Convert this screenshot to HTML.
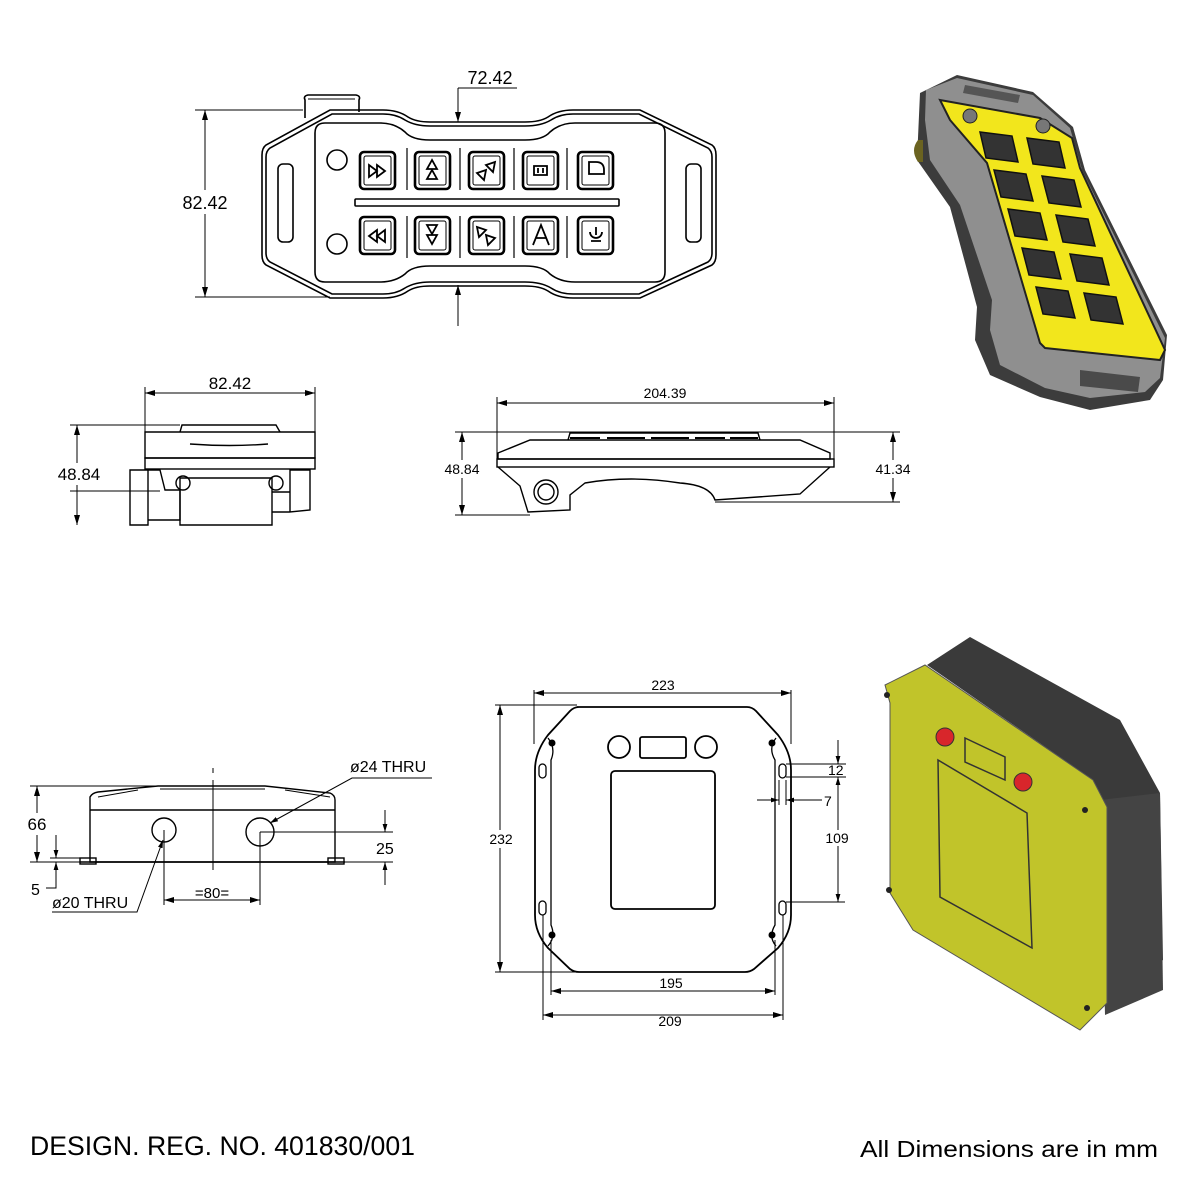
<!DOCTYPE html>
<html><head><meta charset="utf-8"><style>html,body{margin:0;padding:0;background:#fff}svg{display:block}</style></head>
<body>
<svg width="1190" height="1190" viewBox="0 0 1190 1190" xmlns="http://www.w3.org/2000/svg" font-family="Liberation Sans, sans-serif">
<defs>
<marker id="a" viewBox="0 0 10 10" refX="10" refY="5" markerWidth="10" markerHeight="10" orient="auto-start-reverse" markerUnits="userSpaceOnUse"><path d="M0,2 L10,5 L0,8 Z" fill="#000"/></marker>
<marker id="b" viewBox="0 0 10 10" refX="10" refY="5" markerWidth="8" markerHeight="8" orient="auto-start-reverse" markerUnits="userSpaceOnUse"><path d="M0,2 L10,5 L0,8 Z" fill="#000"/></marker>
</defs>
<rect width="1190" height="1190" fill="#fff"/>

<!-- ===== TOP VIEW REMOTE ===== -->
<g fill="none" stroke="#000" stroke-width="1.6">
<path d="M305,118 L305,100 Q303,96 308,95 L356,95 Q361,96 359,100 L359,112"/>
<path d="M308,99 L355,99" stroke-width="1"/>
<path d="M330,110 L383,110 Q398,110 408,117 Q416,122 430,122 L525,122 Q540,122 548,117 Q558,110 573,110 L640,110 L712,145 Q716,148 716,155 L716,255 Q716,262 712,265 L640,298 L573,298 Q558,298 548,291 Q540,286 525,286 L430,286 Q416,286 408,291 Q398,298 383,298 L330,298 L266,265 Q262,262 262,255 L262,155 Q262,148 266,145 Z"/>
<path d="M332,114 L383,114 Q396,114 405,120 Q415,126 430,126 L525,126 Q541,126 551,120 Q560,114 573,114 L639,114 L708,148 Q712,151 712,157 L712,253 Q712,259 708,262 L639,294 L573,294 Q560,294 551,288 Q541,282 525,282 L430,282 Q415,282 405,288 Q396,294 383,294 L332,294 L270,262 Q266,259 266,253 L266,157 Q266,151 270,148 Z"/>
<path d="M325,123 L380,123 Q395,123 405,132 Q412,140 430,140 L525,140 Q543,140 550,132 Q560,123 575,123 L655,123 Q665,123 665,133 L665,272 Q665,282 655,282 L575,282 Q560,282 550,274 Q543,266 525,266 L430,266 Q412,266 405,274 Q395,282 380,282 L325,282 Q315,282 315,272 L315,133 Q315,123 325,123 Z"/>
<circle cx="337" cy="160" r="10"/><circle cx="337" cy="244" r="10"/>
<rect x="278" y="164" width="15" height="78" rx="5"/><rect x="686" y="164" width="15" height="78" rx="5"/>
<rect x="355" y="199" width="264" height="7" rx="1"/>
<path d="M407,148 L407,190 M460,148 L460,190 M514,148 L514,190 M567,148 L567,190 M407,216 L407,258 M460,216 L460,258 M514,216 L514,258 M567,216 L567,258" stroke-width="1.2"/>
</g>
<g fill="none" stroke="#000">
<g stroke-width="2.6">
<rect x="360" y="152" width="35" height="37" rx="4"/><rect x="415" y="152" width="35" height="37" rx="4"/><rect x="469" y="152" width="35" height="37" rx="4"/><rect x="523" y="152" width="35" height="37" rx="4"/><rect x="578" y="152" width="35" height="37" rx="4"/>
<rect x="360" y="217" width="35" height="37" rx="4"/><rect x="415" y="217" width="35" height="37" rx="4"/><rect x="469" y="217" width="35" height="37" rx="4"/><rect x="523" y="217" width="35" height="37" rx="4"/><rect x="578" y="217" width="35" height="37" rx="4"/>
</g>
<g stroke-width="1">
<rect x="364" y="156" width="27" height="29" rx="2"/><rect x="419" y="156" width="27" height="29" rx="2"/><rect x="473" y="156" width="27" height="29" rx="2"/><rect x="527" y="156" width="27" height="29" rx="2"/><rect x="582" y="156" width="27" height="29" rx="2"/>
<rect x="364" y="221" width="27" height="29" rx="2"/><rect x="419" y="221" width="27" height="29" rx="2"/><rect x="473" y="221" width="27" height="29" rx="2"/><rect x="527" y="221" width="27" height="29" rx="2"/><rect x="582" y="221" width="27" height="29" rx="2"/>
</g>
<g stroke-width="1.8">
<path d="M369,165 L377,171 L369,177 Z M377,165 L385,171 L377,177 Z"/>
<path d="M432,160 L427,169 L437,169 Z M432,170 L427,179 L437,179 Z"/>
<path d="M495,162 L486,165 L493,172 Z M486,170 L477,173 L484,180 Z"/>
<path d="M534,166 h13 v9 h-13 Z M538,168 v5 M543,168 v5"/>
<path d="M589,162 h7 q8,0 8,8 v4 h-15 Z"/>
<path d="M385,230 L377,236 L385,242 Z M377,230 L369,236 L377,242 Z"/>
<path d="M432,244 L427,235 L437,235 Z M432,234 L427,225 L437,225 Z"/>
<path d="M477,227 L486,230 L479,237 Z M486,235 L495,238 L488,245 Z"/>
<path d="M533,245 L541,225 L549,245 M536,238 h10"/>
<path d="M590,232 a6,6 0 1 0 12,0 M596,227 v8 M591,241 h10"/>
</g>
</g>
<!-- dims top -->
<g stroke="#000" stroke-width="1" fill="none">
<path d="M195,110 L303,110 M195,297 L330,297"/>
<line x1="205" y1="110" x2="205" y2="297" marker-start="url(#a)" marker-end="url(#a)"/>
<path d="M458,88 L517,88"/>
<line x1="458" y1="88" x2="458" y2="122" marker-end="url(#a)"/>
<line x1="458" y1="326" x2="458" y2="285" marker-end="url(#a)"/>
</g>
<rect x="176" y="190" width="58" height="24" fill="#fff"/>
<text x="205" y="209" font-size="18" text-anchor="middle">82.42</text>
<text x="490" y="84" font-size="18" text-anchor="middle">72.42</text>

<!-- ===== 3D REMOTE ===== -->
<path d="M920,93 L957,75 L1033,92 L1073,127 L1085,170 L1167,335 L1163,380 L1150,400 L1090,410 L1040,397 L990,375 L975,340 L977,307 L950,207 L917,160 Z" fill="#3c3c3c"/>
<path d="M926,90 L957,78 L1033,95 L1070,128 L1082,170 L1165,338 L1160,378 L1145,392 L1090,398 L1045,388 L1000,365 L990,330 L992,300 L960,205 L930,160 L925,120 Z" fill="#8f8f8f"/>
<path d="M940,100 L1040,118 L1072,138 L1080,168 L1165,350 L1160,360 L1045,348 L1040,343 L987,163 L950,120 Z" fill="#f2e61c" stroke="#222" stroke-width="2"/>
<path d="M965,85 L1020,95 L1018,103 L963,93 Z" fill="#555"/>
<path d="M1080,370 L1140,377 L1138,392 L1080,386 Z" fill="#4a4a4a"/>
<circle cx="970" cy="116" r="7" fill="#777" stroke="#222"/><circle cx="1043" cy="126" r="7" fill="#777" stroke="#222"/>
<g fill="#333" stroke="#111" stroke-width="1.5">
<path d="M980,132 l32,4 l6,26 l-32,-4 Z"/><path d="M1027,138 l32,4 l6,26 l-32,-4 Z"/>
<path d="M994,170 l32,4 l7,27 l-32,-4 Z"/><path d="M1042,176 l32,4 l7,27 l-32,-4 Z"/>
<path d="M1008,209 l32,4 l7,27 l-32,-4 Z"/><path d="M1056,215 l32,4 l7,27 l-32,-4 Z"/>
<path d="M1022,248 l32,4 l7,27 l-32,-4 Z"/><path d="M1070,254 l32,4 l7,27 l-32,-4 Z"/>
<path d="M1036,287 l32,4 l7,27 l-32,-4 Z"/><path d="M1084,293 l32,4 l7,27 l-32,-4 Z"/>
</g>
<path d="M918,140 q-8,10 0,22 l5,0 l0,-22 Z" fill="#6b6320"/>

<!-- ===== LEFT SIDE VIEW ===== -->
<g fill="none" stroke="#000" stroke-width="1.4">
<path d="M180,432 L182,425 L276,425 L280,432"/>
<path d="M145,432 L315,432 L315,458 L145,458 Z"/>
<path d="M190,444 Q230,447 268,444"/>
<rect x="145" y="458" width="170" height="11"/>
<path d="M130,470 L148,470 L148,525 L130,525 Z"/>
<path d="M148,470 L160,470 L165,490 L180,490 L180,520 L148,520"/>
<path d="M180,478 L272,478 L272,525 L180,525 Z"/>
<circle cx="183" cy="483" r="7"/><circle cx="276" cy="483" r="7"/>
<path d="M290,470 L310,470 L310,510 L290,512 Z M272,492 L290,492 L290,512 L272,512"/>
</g>
<g stroke="#000" stroke-width="1" fill="none">
<path d="M145,432 L145,387 M315,432 L315,387 M70,425 L180,425 M70,491 L160,491"/>
<line x1="145" y1="393" x2="315" y2="393" marker-start="url(#a)" marker-end="url(#a)"/>
<line x1="77" y1="425" x2="77" y2="525" marker-start="url(#a)" marker-end="url(#a)"/>
</g>
<rect x="52" y="463" width="52" height="22" fill="#fff"/>
<text x="79" y="480" font-size="17" text-anchor="middle">48.84</text>
<text x="230" y="389" font-size="17" text-anchor="middle">82.42</text>

<!-- ===== CENTER SIDE VIEW ===== -->
<g fill="none" stroke="#000" stroke-width="1.4">
<path d="M568,440 L570,433 L758,433 L760,440"/>
<path d="M570,438 h30 M607,438 h38 M651,438 h38 M695,438 h30 M730,438 h28" stroke-width="2"/>
<path d="M498,453 L530,440 L800,440 L830,453 L830,459 L498,459 Z"/>
<rect x="497" y="459" width="337" height="8"/>
<path d="M498,467 L520,486 L528,512 L570,510 L570,495 L585,483 Q630,475 680,483 Q710,485 715,500 L800,494 L830,467"/>
<circle cx="546" cy="492" r="12"/><circle cx="546" cy="492" r="8"/>
</g>
<g stroke="#000" stroke-width="1" fill="none">
<path d="M497,459 L497,397 M834,459 L834,397 M455,432 L900,432 M455,515 L530,515 M715,502 L900,502"/>
<line x1="497" y1="403" x2="834" y2="403" marker-start="url(#a)" marker-end="url(#a)"/>
<line x1="462" y1="432" x2="462" y2="515" marker-start="url(#a)" marker-end="url(#a)"/>
<line x1="893" y1="432" x2="893" y2="502" marker-start="url(#a)" marker-end="url(#a)"/>
</g>
<rect x="440" y="460" width="46" height="18" fill="#fff"/><rect x="871" y="460" width="46" height="18" fill="#fff"/>
<text x="462" y="474" font-size="14" text-anchor="middle">48.84</text>
<text x="893" y="474" font-size="14" text-anchor="middle">41.34</text>
<text x="665" y="398" font-size="14" text-anchor="middle">204.39</text>

<!-- ===== 3D RECEIVER ===== -->
<path d="M927,665 L970,637 L1120,720 L1160,793 L1163,960 L1107,1003 L1093,780 Z" fill="#3a3a3a"/>
<path d="M1100,800 L1160,793 L1163,990 L1105,1015 Z" fill="#444"/>
<path d="M885,685 L925,665 L1093,780 L1107,807 L1107,1003 L1080,1030 L913,930 L890,893 L890,703 Z" fill="#c1c42a" stroke="#555" stroke-width="1"/>
<circle cx="945" cy="737" r="9" fill="#d8262b" stroke="#333"/><circle cx="1023" cy="782" r="9" fill="#d8262b" stroke="#333"/>
<path d="M965,738 L1005,757 L1005,780 L965,762 Z" fill="none" stroke="#333" stroke-width="1.5"/>
<path d="M938,760 L1027,813 L1032,948 L940,897 Z" fill="none" stroke="#333" stroke-width="1.5"/>
<g fill="#222"><circle cx="887" cy="695" r="3"/><circle cx="1085" cy="810" r="3"/><circle cx="889" cy="890" r="3"/><circle cx="1087" cy="1008" r="3"/></g>

<!-- ===== BOTTOM-LEFT RECEIVER SIDE ===== -->
<g fill="none" stroke="#000" stroke-width="1.4">
<path d="M90,862 L90,797 Q92,793 98,792 L158,786 L265,786 L330,793 Q335,795 335,800 L335,862 Z"/>
<path d="M98,797 L138,790 M285,790 L330,797 M160,789 L265,789" stroke-width="1"/>
<line x1="90" y1="810" x2="335" y2="810"/>
<line x1="80" y1="862" x2="345" y2="862"/>
<rect x="80" y="858" width="16" height="6"/><rect x="328" y="858" width="16" height="6"/>
<circle cx="164" cy="830" r="12"/><circle cx="260" cy="832" r="14"/>
</g>
<g stroke="#000" stroke-width="1" fill="none">
<path d="M213,768 L213,773 M213,780 L213,870"/>
<path d="M30,786 L158,786 M30,862 L80,862 M50,858 L80,858 M164,830 L164,905 M260,832 L260,905 M260,832 L393,832 M345,862 L393,862"/>
<line x1="37" y1="786" x2="37" y2="862" marker-start="url(#a)" marker-end="url(#a)"/>
<line x1="56" y1="835" x2="56" y2="858" marker-end="url(#b)"/>
<line x1="56" y1="885" x2="56" y2="862" marker-end="url(#b)"/>
<path d="M46,888 L56,888 L56,884"/>
<line x1="385" y1="810" x2="385" y2="832" marker-end="url(#b)"/>
<line x1="385" y1="885" x2="385" y2="862" marker-end="url(#b)"/>
<line x1="164" y1="900" x2="260" y2="900" marker-start="url(#a)" marker-end="url(#a)"/>
<path d="M52,912 L137,912 L163,840" marker-end="url(#b)"/>
<path d="M432,778 L352,778 L270,823" marker-end="url(#b)"/>
</g>
<rect x="24" y="813" width="26" height="22" fill="#fff"/>
<text x="37" y="830" font-size="17" text-anchor="middle">66</text>
<text x="31" y="895" font-size="16">5</text>
<text x="376" y="854" font-size="16">25</text>
<text x="212" y="898" font-size="15" text-anchor="middle">=80=</text>
<text x="52" y="908" font-size="16">ø20 THRU</text>
<text x="350" y="772" font-size="16">ø24 THRU</text>

<!-- ===== RECEIVER TOP VIEW ===== -->
<g fill="none" stroke="#000" stroke-width="1.8">
<path d="M577,707 L747,707 Q752,707 756,711 L778,735 Q791,752 791,770 L791,915 Q791,933 778,948 L754,969 Q750,972 745,972 L579,972 Q574,972 570,969 L548,948 Q535,933 535,915 L535,770 Q535,752 548,735 L570,711 Q574,707 579,707 Z"/>
<path d="M548,738 Q556,748 551,760 L551,925 Q556,937 548,946 M776,738 Q768,748 775,760 L775,925 Q768,937 776,946" stroke-width="1.3"/>
<circle cx="619" cy="747" r="11"/><circle cx="706" cy="747" r="11"/>
<rect x="640" y="737" width="46" height="21" rx="2"/>
<rect x="611" y="771" width="104" height="138" rx="4"/>
<rect x="539" y="764" width="7" height="14" rx="3.5" stroke-width="1.3"/><rect x="779" y="764" width="7" height="14" rx="3.5" stroke-width="1.3"/>
<rect x="539" y="901" width="7" height="14" rx="3.5" stroke-width="1.3"/><rect x="779" y="901" width="7" height="14" rx="3.5" stroke-width="1.3"/>
</g>
<g fill="#000"><circle cx="552" cy="743" r="3.5"/><circle cx="772" cy="743" r="3.5"/><circle cx="552" cy="935" r="3.5"/><circle cx="772" cy="935" r="3.5"/></g>
<g stroke="#000" stroke-width="1" fill="none">
<path d="M534,744 L534,690 M791,744 L791,690 M495,705 L577,705 M495,972 L577,972"/>
<line x1="534" y1="693" x2="791" y2="693" marker-start="url(#a)" marker-end="url(#a)"/>
<line x1="500" y1="705" x2="500" y2="972" marker-start="url(#a)" marker-end="url(#a)"/>
<path d="M551,940 L551,995 M775,940 L775,995 M543,915 L543,1020 M783,915 L783,1020"/>
<line x1="551" y1="991" x2="775" y2="991" marker-start="url(#a)" marker-end="url(#a)"/>
<line x1="543" y1="1015" x2="783" y2="1015" marker-start="url(#a)" marker-end="url(#a)"/>
<path d="M786,764 L846,764 M786,777 L846,777 M786,902 L845,902 M779,780 L779,805 M786,780 L786,805"/>
<line x1="838" y1="740" x2="838" y2="764" marker-end="url(#b)"/>
<line x1="838" y1="777" x2="838" y2="902" marker-start="url(#b)" marker-end="url(#b)"/>
<line x1="757" y1="800" x2="779" y2="800" marker-end="url(#b)"/>
<line x1="808" y1="800" x2="786" y2="800" marker-end="url(#b)"/>
<path d="M808,800 L822,800"/>
</g>
<rect x="487" y="830" width="28" height="18" fill="#fff"/>
<text x="501" y="844" font-size="14" text-anchor="middle">232</text>
<text x="663" y="690" font-size="14" text-anchor="middle">223</text>
<text x="671" y="988" font-size="14" text-anchor="middle">195</text>
<text x="670" y="1026" font-size="14" text-anchor="middle">209</text>
<text x="828" y="775" font-size="14">12</text>
<text x="824" y="806" font-size="14">7</text>
<rect x="822" y="830" width="30" height="16" fill="#fff"/>
<text x="837" y="843" font-size="14" text-anchor="middle">109</text>

<!-- footer -->
<text x="30" y="1155" font-size="27" textLength="385" lengthAdjust="spacingAndGlyphs">DESIGN. REG. NO. 401830/001</text>
<text x="860" y="1157" font-size="23" textLength="298" lengthAdjust="spacingAndGlyphs">All Dimensions are in mm</text>
</svg>
</body></html>
